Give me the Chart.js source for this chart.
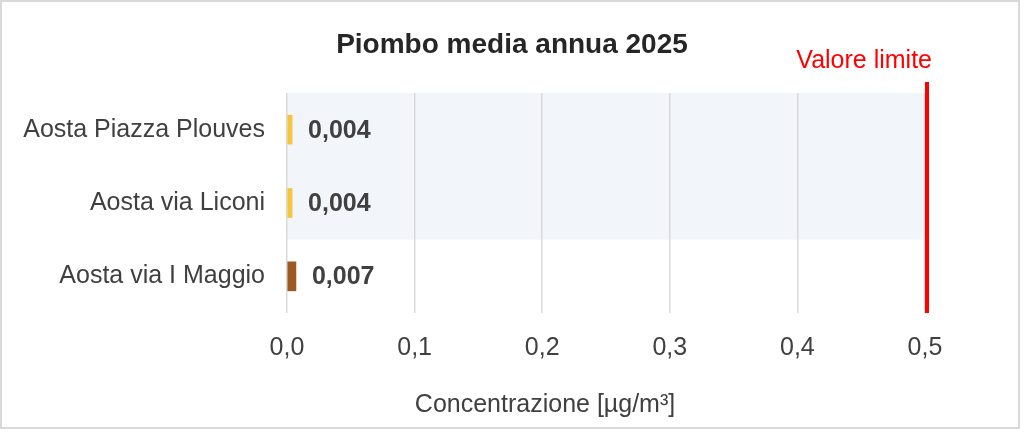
<!DOCTYPE html>
<html>
<head>
<meta charset="utf-8">
<script src="https://cdn.jsdelivr.net/npm/chart.js@4"></script>
<style>
  body { margin: 0; background: #fff; }
  #wrap {
    position: absolute; left: 0; top: 0;
    width: 1016px; height: 425px;
    border: 2px solid #d9d9d9;
  }
</style>
</head>
<body>
<div id="wrap"><canvas id="chart" width="1016" height="425"></canvas></div>
<script>
// Data
const stations = ["Aosta Piazza Plouves", "Aosta via Liconi", "Aosta via I Maggio"];
const leadValues = [0.004, 0.004, 0.007];
const barColors = ["#f5c63c", "#f5c63c", "#9b5a23"];
const limitValue = 0.5;
const shadedStations = ["Aosta Piazza Plouves", "Aosta via Liconi"];

const FONT = "'Liberation Sans', Arial, sans-serif";
const fmt = (v, d) => v.toFixed(d).replace(".", ",");

// light band behind the first two stations
const bandPlugin = {
  id: "band",
  beforeDraw(chart) {
    const { ctx, scales: { x, y } } = chart;
    const idx = shadedStations.map((s) => stations.indexOf(s));
    const half = (y.getPixelForValue(1) - y.getPixelForValue(0)) / 2;
    const top = y.getPixelForValue(Math.min(...idx)) - half;
    const bottom = y.getPixelForValue(Math.max(...idx)) + half;
    ctx.save();
    ctx.fillStyle = "#f2f5fa";
    ctx.fillRect(x.getPixelForValue(0), top, x.getPixelForValue(limitValue) - x.getPixelForValue(0), bottom - top);
    ctx.restore();
  },
};

// title, limit line, value labels, axis title
const extrasPlugin = {
  id: "extras",
  afterDatasetsDraw(chart) {
    const { ctx, chartArea, scales: { x, y } } = chart;
    ctx.save();
    ctx.textBaseline = "middle";

    ctx.fillStyle = "#262626";
    ctx.font = "bold 28px " + FONT;
    ctx.textAlign = "center";
    ctx.fillText("Piombo media annua 2025", 510, 43);

    const lx = x.getPixelForValue(limitValue) + 2;
    ctx.strokeStyle = "#ff0000";
    ctx.lineWidth = 4;
    ctx.beginPath();
    ctx.moveTo(lx, chartArea.top - 11);
    ctx.lineTo(lx, chartArea.bottom);
    ctx.stroke();

    ctx.fillStyle = "#ff0000";
    ctx.font = "25px " + FONT;
    ctx.textAlign = "right";
    ctx.fillText("Valore limite", lx + 5, 59);

    ctx.fillStyle = "#404040";
    ctx.font = "bold 25px " + FONT;
    ctx.textAlign = "left";
    const meta = chart.getDatasetMeta(0);
    meta.data.forEach((bar, i) => {
      ctx.fillText(fmt(leadValues[i], 3), bar.x + 16, bar.y + 1);
    });

    ctx.font = "25px " + FONT;
    ctx.textAlign = "center";
    ctx.fillText("Concentrazione [µg/m³]", 543, 403);
    ctx.restore();
  },
};

new Chart(document.getElementById("chart"), {
  type: "bar",
  data: {
    labels: stations,
    datasets: [
      {
        data: leadValues,
        backgroundColor: barColors,
        barThickness: 29,
      },
    ],
  },
  options: {
    indexAxis: "y",
    responsive: false,
    animation: false,
    layout: { padding: { left: 0, right: 93, top: 91, bottom: 44 } },
    plugins: {
      legend: { display: false },
      tooltip: { enabled: false },
    },
    scales: {
      x: {
        min: 0,
        max: 0.5,
        ticks: {
          stepSize: 0.1,
          color: "#404040",
          font: { family: FONT, size: 25 },
          padding: 20,
          callback: (v) => fmt(v, 1),
        },
        grid: { color: "#d9d9d9", lineWidth: 1.5, drawTicks: false },
        border: { display: false },
      },
      y: {
        ticks: {
          color: "#404040",
          font: { family: FONT, size: 25 },
          padding: 22,
        },
        grid: { display: false, drawTicks: false },
        border: { display: false },
        afterFit: (scale) => { scale.width = 285; },
      },
    },
  },
  plugins: [bandPlugin, extrasPlugin],
});
</script>
</body>
</html>
